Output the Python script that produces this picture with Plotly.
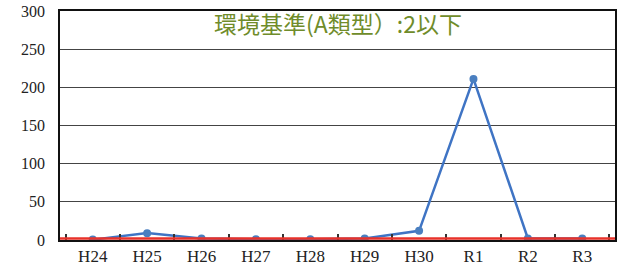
import plotly.graph_objects as go

years = ["H24", "H25", "H26", "H27", "H28", "H29", "H30", "R1", "R2", "R3"]
values = [0.5, 9, 2, 1, 1, 2, 12, 211, 2, 2]
standard = 2
title_text = "環境基準(A類型）:2以下"
y_ticks = [0, 50, 100, 150, 200, 250, 300]

serif = "Liberation Serif"

fig = go.Figure()
fig.add_trace(go.Scatter(
    x=years, y=values, mode="lines+markers",
    line=dict(color="#3f74c4", width=2.5),
    marker=dict(color="#4a7fc0", size=8),
    showlegend=False,
))
fig.add_hline(y=standard, line=dict(color="#e8322a", width=2.5), layer="above")

fig.add_annotation(
    text=title_text, xref="paper", yref="paper", x=0.5, y=0.948,
    xanchor="center", yanchor="middle", showarrow=False,
    font=dict(family="Noto Sans CJK JP", size=23, color="#6f8c2a"),
)

fig.update_layout(
    width=621, height=276,
    margin=dict(l=60, r=6, t=11, b=36, autoexpand=False),
    paper_bgcolor="white", plot_bgcolor="white",
    font=dict(family=serif, size=17, color="#222"),
)
fig.update_xaxes(
    type="category", showgrid=False, showline=True, mirror=True,
    linecolor="#111", linewidth=1.5, automargin=False,
    ticks="inside", tickson="boundaries", ticklen=6, tickwidth=1.5, tickcolor="#333",
    tickfont=dict(family=serif, size=17, color="#222"),
)
fig.update_yaxes(
    range=[0, 300], tickvals=y_ticks, showgrid=True, gridcolor="#444",
    gridwidth=1, showline=True, mirror=True, linecolor="#111", linewidth=1.5,
    ticks="", ticklabelstandoff=10, zeroline=False, automargin=False,
    tickfont=dict(family=serif, size=16, color="#222"),
)

fig.write_html(
    "out.html",
    config={"displayModeBar": False},
    post_script="document.body.style.margin='0';document.body.style.overflow='hidden';",
)
